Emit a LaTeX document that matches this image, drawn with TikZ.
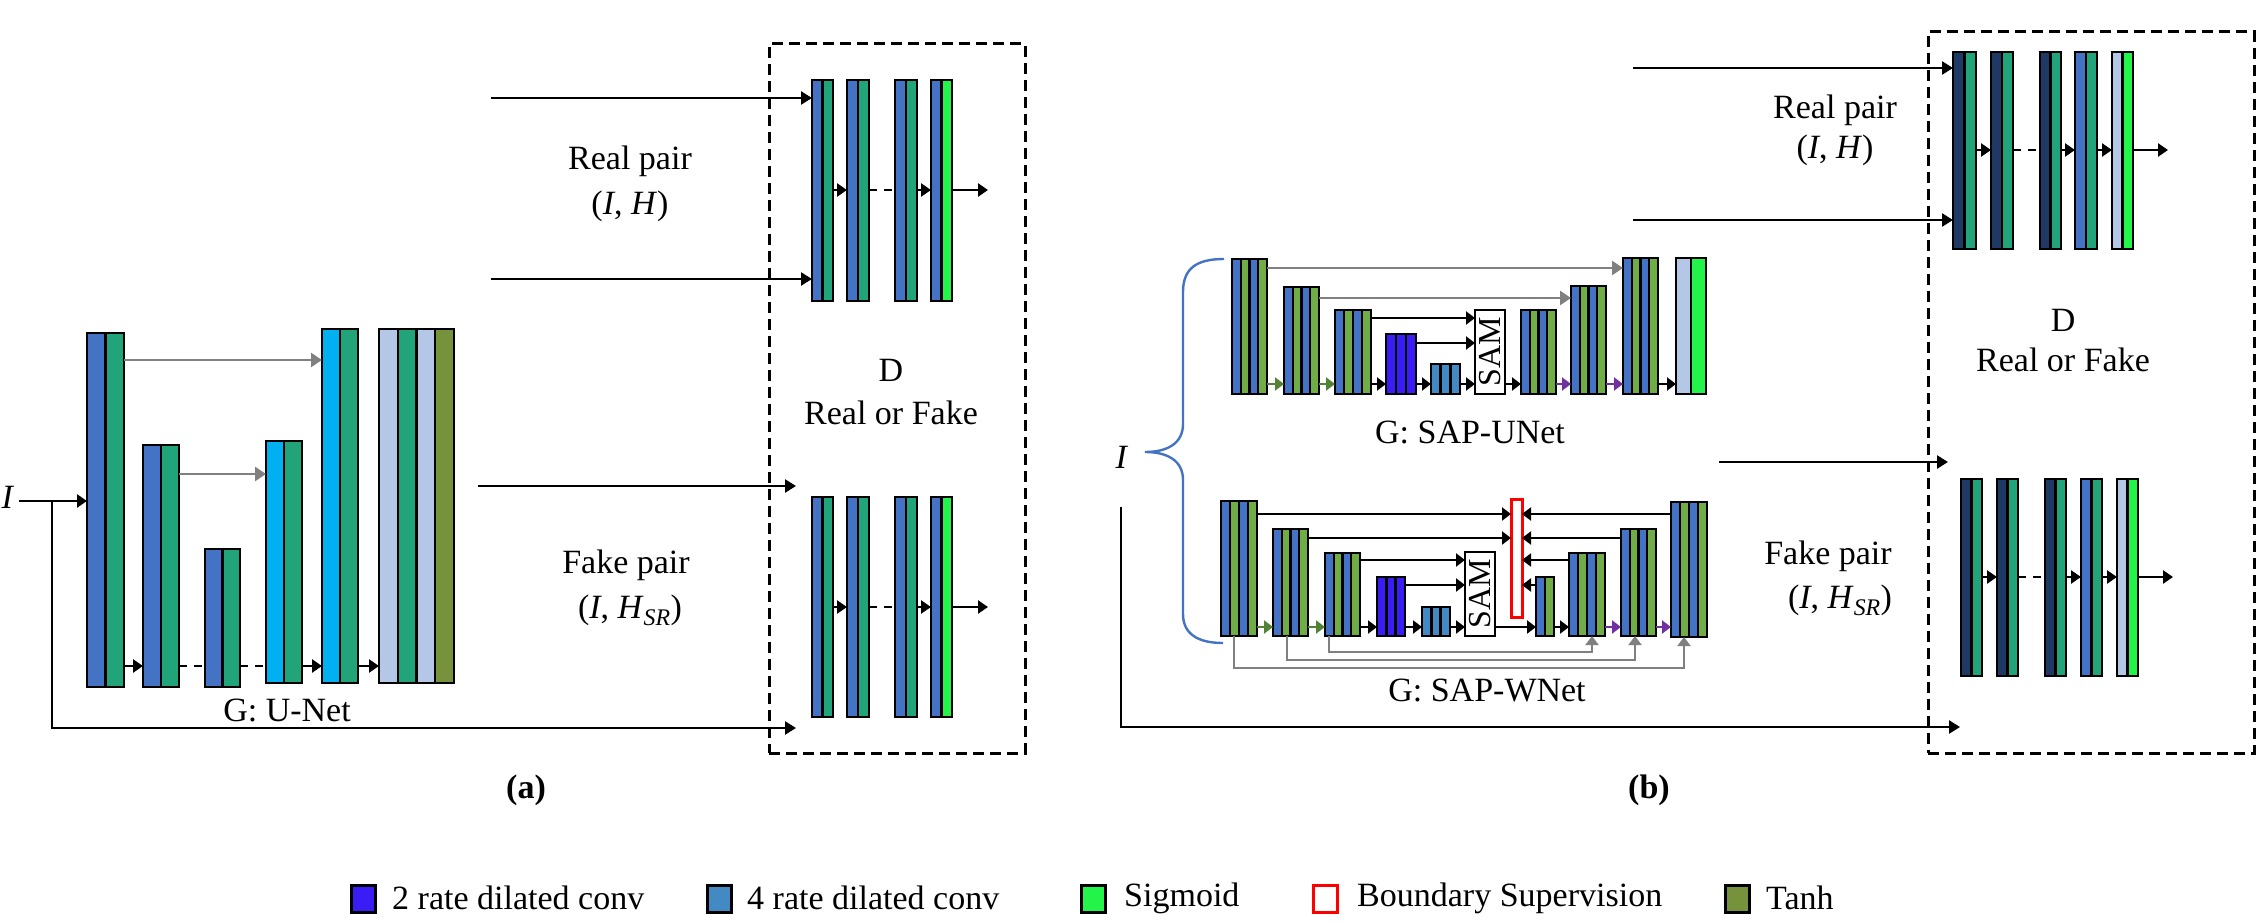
\documentclass[tikz,border=0pt]{standalone}
\usepackage{fontspec}
\setmainfont{Liberation Serif}
\usetikzlibrary{arrows.meta}
\definecolor{cblue}{RGB}{68,114,196}
\definecolor{cteal}{RGB}{33,164,122}
\definecolor{ccyan}{RGB}{0,176,240}
\definecolor{clight}{RGB}{180,199,231}
\definecolor{colive}{RGB}{118,146,60}
\definecolor{cgreen}{RGB}{112,173,71}
\definecolor{csig}{RGB}{34,244,74}
\definecolor{crtwo}{RGB}{58,28,245}
\definecolor{crfour}{RGB}{67,138,196}
\definecolor{cnavy}{RGB}{32,56,100}
\definecolor{cgray}{RGB}{128,128,128}
\definecolor{carrg}{RGB}{84,130,53}
\definecolor{cpurp}{RGB}{112,48,160}
\definecolor{cbrace}{RGB}{68,114,196}
\tikzset{
 blk/.style={draw=black, line width=2.4pt, inner sep=0pt, outer sep=0pt},
 sepl/.style={line width=2.4pt, black},
 arr/.style={line width=2.4pt, -{Triangle[length=11pt,width=13pt]}},
 darr/.style={line width=2.6pt, -{Triangle[length=10pt,width=13pt]}},
 dsh/.style={line width=2.8pt, dash pattern=on 8pt off 7pt},
 garr/.style={line width=2.8pt, cgray, -{Triangle[length=11pt,width=14pt]}},
 sarr/.style={line width=2.4pt, -{Triangle[length=9pt,width=13pt]}},
 gsarr/.style={line width=2.2pt, cgray, -{Triangle[length=9pt,width=13pt]}},
 dbox/.style={draw, line width=3pt, dash pattern=on 11pt off 6pt, inner sep=0pt, outer sep=0pt},
 txt/.style={font=\fontsize{34}{40}\selectfont, inner sep=0pt},
 lgsq/.style={draw=black, line width=3pt, inner sep=0pt, minimum width=24pt, minimum height=27pt, anchor=north west},
}
% #1 name, #2 x left, #3 y top, #4 width, #5 height, #6 strips, #7 colours
\newcommand{\mkblock}[7]{%
  \foreach \cc [count=\ii from 0] in {#7}{%
    \fill[\cc] ({#2+\ii*(#4)/(#6)},#3) rectangle ({#2+(\ii+1)*(#4)/(#6)},{#3+#5});
    \ifnum\ii>0 \draw[sepl] ({#2+\ii*(#4)/(#6)},#3) -- ({#2+\ii*(#4)/(#6)},{#3+#5});\fi
  }%
  \node[blk, minimum width=#4pt, minimum height=#5pt, anchor=north west] (#1) at (#2,#3) {};
}
\begin{document}
\begin{tikzpicture}[x=1pt,y=-1pt]
\useasboundingbox (0,0) rectangle (2264,923);

% ================= (a) =================
\mkblock{a1}{87}{333}{37}{354}{2}{cblue,cteal}
\mkblock{a2}{143}{445}{36}{242}{2}{cblue,cteal}
\mkblock{a3}{205}{549}{35}{138}{2}{cblue,cteal}
\mkblock{a4}{266}{441}{36}{242}{2}{ccyan,cteal}
\mkblock{a5}{322}{329}{36}{354}{2}{ccyan,cteal}
\mkblock{a6}{379}{329}{75}{354}{4}{clight,cteal,clight,colive}

\draw[garr] (a1.east |- 0,360) -- (a5.west |- 0,360);
\draw[garr] (a2.east |- 0,474) -- (a4.west |- 0,474);
\draw[darr] (a1.east |- 0,666) -- (a2.west |- 0,666);
\draw[dsh] (a2.east |- 0,666) -- (a3.west |- 0,666);
\draw[dsh] (a3.east |- 0,666) -- (a4.west |- 0,666);
\draw[darr] (a4.east |- 0,666) -- (a5.west |- 0,666);
\draw[darr] (a5.east |- 0,666) -- (a6.west |- 0,666);

\node[txt] (ia) at (8,497) {\textit{I}};
\coordinate (istart) at (19,501);
\coordinate (ibr) at (52,501);
\draw[darr] (istart) -- (a1.west |- 0,501);
\node[txt] (gunet) at (287,710) {G: U-Net};

\node[dbox, minimum width=256pt, minimum height=709pt, anchor=north west] (dboxa) at (769,44) {};
\mkblock{p1}{812}{80}{21}{221}{2}{cblue,cteal}
\mkblock{p2}{847}{80}{22}{221}{2}{cblue,cteal}
\mkblock{p3}{895}{80}{22}{221}{2}{cblue,cteal}
\mkblock{p4}{931}{80}{21}{221}{2}{cblue,csig}
\mkblock{q1}{812}{497}{21}{220}{2}{cblue,cteal}
\mkblock{q2}{847}{497}{22}{220}{2}{cblue,cteal}
\mkblock{q3}{895}{497}{22}{220}{2}{cblue,cteal}
\mkblock{q4}{931}{497}{21}{220}{2}{cblue,csig}
\coordinate (pout) at (988,190);
\coordinate (qout) at (988,607);
\draw[darr] (p1.east |- 0,190) -- (p2.west |- 0,190);
\draw[dsh] (p2.east |- 0,190) -- (p3.west |- 0,190);
\draw[darr] (p3.east |- 0,190) -- (p4.west |- 0,190);
\draw[darr] (p4.east |- 0,190) -- (pout);
\draw[darr] (q1.east |- 0,607) -- (q2.west |- 0,607);
\draw[dsh] (q2.east |- 0,607) -- (q3.west |- 0,607);
\draw[darr] (q3.east |- 0,607) -- (q4.west |- 0,607);
\draw[darr] (q4.east |- 0,607) -- (qout);

\coordinate (ra1) at (491,98);
\coordinate (ra2) at (491,279);
\coordinate (fa1) at (478,486);
\coordinate (fe1) at (796,486);
\coordinate (fe2) at (796,728);
\draw[arr] (ra1) -- (p1.west |- 0,98);
\draw[arr] (ra2) -- (p1.west |- 0,279);
\draw[arr] (fa1) -- (fe1);
\draw[arr] (ibr) |- (fe2);

\node[txt] (rpa) at (630,161) {Real pair};
\node[txt] (rpb) at (630,206) {(\textit{I}, \textit{H})};
\node[txt] (fpa) at (626,565) {Fake pair};
\node[txt] (fpb) at (630,610) {(\textit{I}, \textit{H}\textsubscript{\textit{SR}})};
\node[txt] (dla) at (891,370) {D};
\node[txt] (dlb) at (891,413) {Real or Fake};
\node[txt] (capa) at (526,790) {\textbf{(a)}};

% ================= (b) =================
\draw[cbrace, line width=2.4pt] (1224,259) .. controls (1197,259) and (1183,268) .. (1183,292) -- (1183,424)
  .. controls (1183,443) and (1168,452) .. (1145,452)
  .. controls (1168,452) and (1183,461) .. (1183,480) -- (1183,614)
  .. controls (1183,634) and (1198,643) .. (1223,643);
\node[txt] (ib) at (1122,457) {\textit{I}};

% SAP-UNet
\mkblock{u1}{1232}{259}{35}{135}{4}{cblue,cgreen,cblue,cgreen}
\mkblock{u2}{1284}{287}{35}{107}{4}{cblue,cgreen,cblue,cgreen}
\mkblock{u3}{1335}{310}{36}{84}{4}{cblue,cgreen,cblue,cgreen}
\mkblock{u4}{1386}{334}{30}{60}{3}{crtwo,crtwo,crtwo}
\mkblock{u5}{1431}{364}{29}{30}{3}{crfour,crfour,crfour}
\node[blk, fill=white, minimum width=30pt, minimum height=84pt, anchor=north west] (usam) at (1475,310) {};
\node[txt, rotate=90, font=\fontsize{32}{36}\selectfont] (usamt) at (usam.center) {SAM};
\mkblock{u6}{1521}{310}{35}{84}{4}{cblue,cgreen,cblue,cgreen}
\mkblock{u7}{1571}{286}{35}{108}{4}{cblue,cgreen,cblue,cgreen}
\mkblock{u8}{1623}{258}{35}{136}{4}{cblue,cgreen,cblue,cgreen}
\mkblock{u9}{1676}{258}{30}{136}{2}{clight,csig}

\draw[garr] (u1.east |- 0,268) -- (u8.west |- 0,268);
\draw[garr] (u2.east |- 0,298) -- (u7.west |- 0,298);
\draw[sarr] (u3.east |- 0,318) -- (usam.west |- 0,318);
\draw[sarr] (u4.east |- 0,343) -- (usam.west |- 0,343);
\draw[sarr, carrg] (u1.east |- 0,384) -- (u2.west |- 0,384);
\draw[sarr, carrg] (u2.east |- 0,384) -- (u3.west |- 0,384);
\draw[sarr] (u3.east |- 0,384) -- (u4.west |- 0,384);
\draw[sarr] (u4.east |- 0,384) -- (u5.west |- 0,384);
\draw[sarr] (u5.east |- 0,384) -- (usam.west |- 0,384);
\draw[sarr] (usam.east |- 0,384) -- (u6.west |- 0,384);
\draw[sarr, cpurp] (u6.east |- 0,384) -- (u7.west |- 0,384);
\draw[sarr, cpurp] (u7.east |- 0,384) -- (u8.west |- 0,384);
\draw[sarr] (u8.east |- 0,384) -- (u9.west |- 0,384);
\node[txt] (gsapu) at (1470,432) {G: SAP-UNet};

% SAP-WNet
\mkblock{w1}{1221}{501}{36}{135}{4}{cblue,cgreen,cblue,cgreen}
\mkblock{w2}{1273}{529}{35}{107}{4}{cblue,cgreen,cblue,cgreen}
\mkblock{w3}{1325}{553}{35}{83}{4}{cblue,cgreen,cblue,cgreen}
\mkblock{w4}{1377}{577}{28}{59}{3}{crtwo,crtwo,crtwo}
\mkblock{w5}{1422}{607}{28}{29}{3}{crfour,crfour,crfour}
\node[blk, fill=white, minimum width=30pt, minimum height=84pt, anchor=north west] (wsam) at (1465,552) {};
\node[txt, rotate=90, font=\fontsize{32}{36}\selectfont] (wsamt) at (wsam.center) {SAM};
\node[draw=red, line width=3pt, inner sep=0pt, outer sep=0pt, minimum width=11pt, minimum height=118pt, anchor=north west] (red) at (1511,499) {};
\mkblock{w6}{1536}{577}{18}{59}{2}{cblue,cgreen}
\mkblock{w7}{1569}{553}{36}{83}{4}{cblue,cgreen,cblue,cgreen}
\mkblock{w8}{1621}{529}{35}{107}{4}{cblue,cgreen,cblue,cgreen}
\mkblock{w9}{1671}{502}{36}{135}{4}{cblue,cgreen,cblue,cgreen}

\draw[sarr] (w1.east |- 0,514) -- (red.west |- 0,514);
\draw[sarr] (w2.east |- 0,538) -- (red.west |- 0,538);
\draw[sarr] (w3.east |- 0,560) -- (wsam.west |- 0,560);
\draw[sarr] (w4.east |- 0,585) -- (wsam.west |- 0,585);
\draw[sarr] (w9.west |- 0,514) -- (red.east |- 0,514);
\draw[sarr] (w8.west |- 0,538) -- (red.east |- 0,538);
\draw[sarr] (w7.west |- 0,560) -- (red.east |- 0,560);
\draw[sarr] (w6.west |- 0,585) -- (red.east |- 0,585);
\draw[sarr, carrg] (w1.east |- 0,627) -- (w2.west |- 0,627);
\draw[sarr, carrg] (w2.east |- 0,627) -- (w3.west |- 0,627);
\draw[sarr] (w3.east |- 0,627) -- (w4.west |- 0,627);
\draw[sarr] (w4.east |- 0,627) -- (w5.west |- 0,627);
\draw[sarr] (w5.east |- 0,627) -- (wsam.west |- 0,627);
\draw[sarr] (wsam.east |- 0,627) -- (w6.west |- 0,627);
\draw[sarr] (w6.east |- 0,627) -- (w7.west |- 0,627);
\draw[sarr, cpurp] (w7.east |- 0,627) -- (w8.west |- 0,627);
\draw[sarr, cpurp] (w8.east |- 0,627) -- (w9.west |- 0,627);
\draw[gsarr] (w3.south -| 1329,0) -- ++(0,16) -| (w7.south -| 1592,0);
\draw[gsarr] (w2.south -| 1287,0) -- ++(0,24) -| (w8.south -| 1635,0);
\draw[gsarr] (w1.south -| 1234,0) -- ++(0,32) -| (w9.south -| 1684,0);
\node[txt] (gsapw) at (1487,690) {G: SAP-WNet};

% D (b)
\node[dbox, minimum width=326pt, minimum height=721pt, anchor=north west] (dboxb) at (1928,32) {};
\mkblock{r1}{1953}{52}{23}{197}{2}{cnavy,cteal}
\mkblock{r2}{1991}{52}{22}{197}{2}{cnavy,cteal}
\mkblock{r3}{2040}{52}{21}{197}{2}{cnavy,cteal}
\mkblock{r4}{2075}{52}{22}{197}{2}{cblue,cteal}
\mkblock{r5}{2112}{52}{21}{197}{2}{clight,csig}
\mkblock{s1}{1961}{479}{21}{197}{2}{cnavy,cteal}
\mkblock{s2}{1997}{479}{21}{197}{2}{cnavy,cteal}
\mkblock{s3}{2045}{479}{21}{197}{2}{cnavy,cteal}
\mkblock{s4}{2081}{479}{21}{197}{2}{cblue,cteal}
\mkblock{s5}{2117}{479}{21}{197}{2}{clight,csig}
\coordinate (rout) at (2168,150);
\coordinate (sout) at (2173,577);
\draw[darr] (r1.east |- 0,150) -- (r2.west |- 0,150);
\draw[dsh] (r2.east |- 0,150) -- (r3.west |- 0,150);
\draw[darr] (r3.east |- 0,150) -- (r4.west |- 0,150);
\draw[darr] (r4.east |- 0,150) -- (r5.west |- 0,150);
\draw[darr] (r5.east |- 0,150) -- (rout);
\draw[darr] (s1.east |- 0,577) -- (s2.west |- 0,577);
\draw[dsh] (s2.east |- 0,577) -- (s3.west |- 0,577);
\draw[darr] (s3.east |- 0,577) -- (s4.west |- 0,577);
\draw[darr] (s4.east |- 0,577) -- (s5.west |- 0,577);
\draw[darr] (s5.east |- 0,577) -- (sout);

\coordinate (rb1) at (1633,68);
\coordinate (rb2) at (1633,220);
\coordinate (fb1) at (1719,462);
\coordinate (fbe1) at (1948,462);
\coordinate (bstart) at (1121,507);
\coordinate (bend) at (1960,727);
\draw[arr] (rb1) -- (r1.west |- 0,68);
\draw[arr] (rb2) -- (r1.west |- 0,220);
\draw[arr] (fb1) -- (fbe1);
\draw[arr] (bstart) |- (bend);

\node[txt] (rpc) at (1835,110) {Real pair};
\node[txt] (rpd) at (1835,150) {(\textit{I}, \textit{H})};
\node[txt] (fpc) at (1828,556) {Fake pair};
\node[txt] (fpd) at (1840,600) {(\textit{I}, \textit{H}\textsubscript{\textit{SR}})};
\node[txt] (dlc) at (2063,320) {D};
\node[txt] (dld) at (2063,360) {Real or Fake};
\node[txt] (capb) at (1649,790) {\textbf{(b)}};

% ================= legend =================
\node[lgsq, fill=crtwo] (lg1) at (350,884) {};
\node[txt, anchor=west] (lt1) at (392,898) {2 rate dilated conv};
\node[lgsq, fill=crfour] (lg2) at (706,884) {};
\node[txt, anchor=west] (lt2) at (747,898) {4 rate dilated conv};
\node[lgsq, fill=csig] (lg3) at (1080,884) {};
\node[txt, anchor=west] (lt3) at (1124,898) {Sigmoid};
\node[lgsq, draw=red, fill=white] (lg4) at (1312,884) {};
\node[txt, anchor=west] (lt4) at (1357,898) {Boundary Supervision};
\node[lgsq, fill=colive] (lg5) at (1724,884) {};
\node[txt, anchor=west] (lt5) at (1766,898) {Tanh};
\end{tikzpicture}
\end{document}
